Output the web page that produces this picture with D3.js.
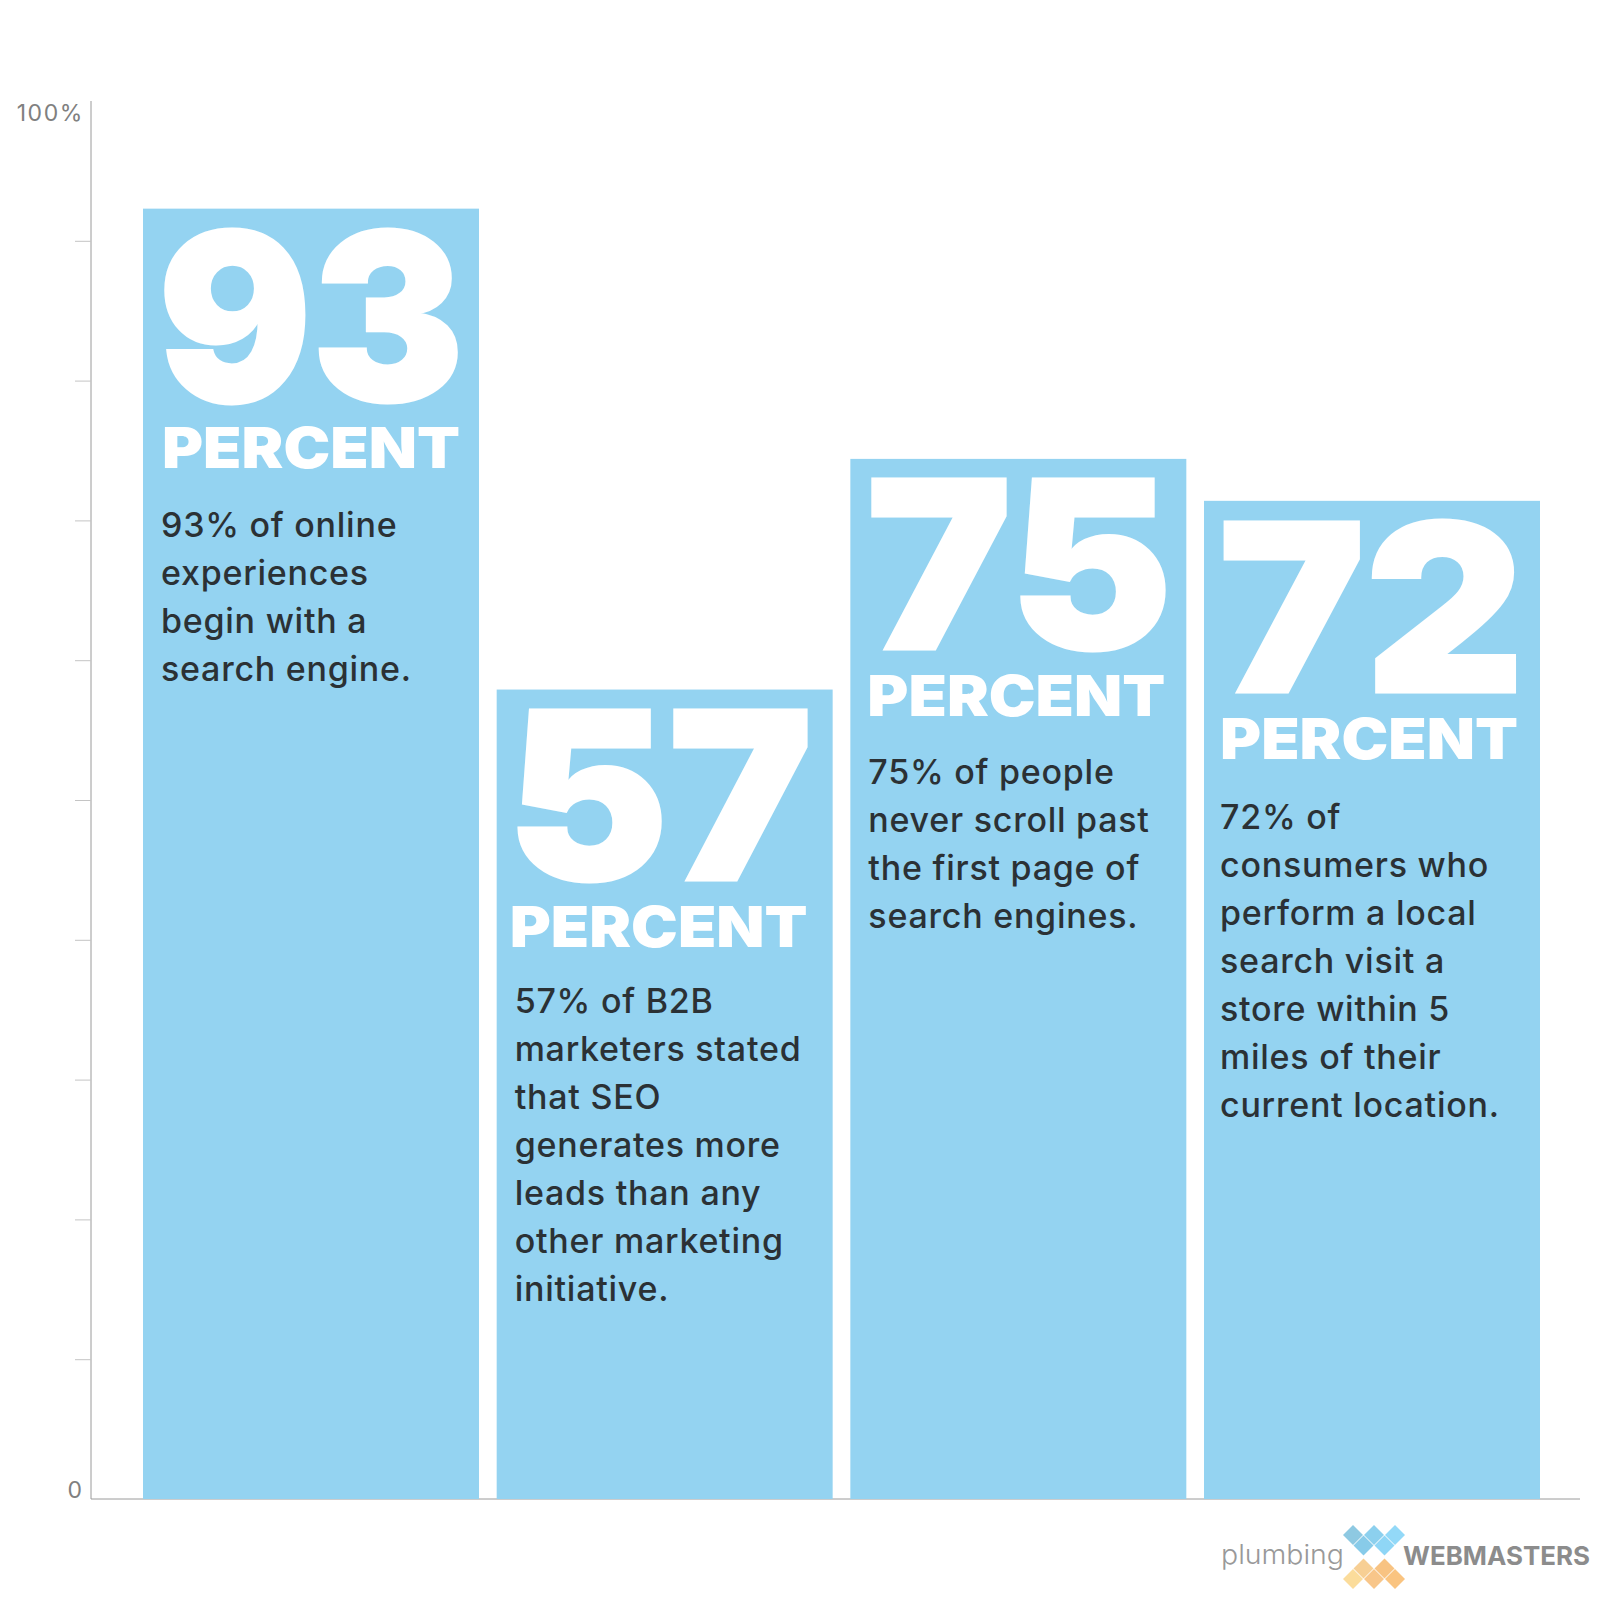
<!DOCTYPE html>
<html>
<head>
<meta charset="utf-8">
<script src="https://cdnjs.cloudflare.com/ajax/libs/d3/7.8.5/d3.min.js"></script>
<style>
	html, body { margin: 0; padding: 0; background: #fff; }
	svg { display: block; }
	text { font-family: Inter, "Open Sans", sans-serif; }
</style>
</head>
<body>
<svg id="chart" width="1600" height="1600"></svg>
<script>
// values
const categories = ['93', '57', '75', '72'];
const barValues = [92.3, 57.9, 74.4, 71.4];
const unitLabel = 'PERCENT';
const descriptions = [
	['93% of online', 'experiences', 'begin with a', 'search engine.'],
	['57% of B2B', 'marketers stated', 'that SEO', 'generates more', 'leads than any', 'other marketing', 'initiative.'],
	['75% of people', 'never scroll past', 'the first page of', 'search engines.'],
	['72% of', 'consumers who', 'perform a local', 'search visit a', 'store within 5', 'miles of their', 'current location.']
];
const tickValues = [0, 10, 20, 30, 40, 50, 60, 70, 80, 90, 100];

const svg = d3.select('#chart');

const x = d3.scaleBand().domain(categories).range([143, 1540]).paddingInner(0.05);
const y = d3.scaleLinear().domain([0, 100]).range([1499, 101]);

// ticks stick out to the left, no labels on the axis itself
const yAxis = d3.axisLeft(y).tickValues(tickValues.slice(1, -1)).tickSize(16).tickFormat('');
const axisG = svg.append('g').attr('transform', 'translate(91,0)').call(yAxis);
axisG.select('.domain').attr('stroke', '#9a9a9a').attr('d', `M0,${y(100)}V${y(0)}`);
axisG.selectAll('.tick line').attr('stroke', '#c4c4c4');

svg.append('line')
	.attr('x1', 91).attr('x2', 1580)
	.attr('y1', y(0)).attr('y2', y(0))
	.attr('stroke', '#9a9a9a');

svg.append('text').attr('x', 84).attr('y', y(100) + 20).attr('text-anchor', 'end')
	.attr('font-size', 23).attr('letter-spacing', 1.6).attr('fill', '#808080').text('100%');
svg.append('text').attr('x', 82).attr('y', y(0) - 1).attr('text-anchor', 'end')
	.attr('font-size', 23).attr('fill', '#808080').text('0');

// hand offsets of the text blocks against each bar
const numberNudge = [0, -5, 1, -0.5];
const percentNudge = [0, -6, -2, -3];
const percentLift = [0, -2, -2, -1];
const bodyLift = [0, -5, -3, 0];
const bodyIndent = [18, 18, 18, 16];

const bars = svg.selectAll('g.bar')
	.data(categories)
	.join('g')
	.attr('class', 'bar')
	.attr('transform', d => `translate(${x(d)},0)`);

bars.append('rect')
	.attr('width', x.bandwidth())
	.attr('y', (d, i) => y(barValues[i]))
	.attr('height', (d, i) => y(0) - y(barValues[i]))
	.attr('fill', '#94d3f1');

bars.append('text')
	.attr('x', (d, i) => x.bandwidth() / 2 + numberNudge[i])
	.attr('y', (d, i) => y(barValues[i]) + 192 + percentLift[i])
	.attr('text-anchor', 'middle')
	.attr('font-size', 233)
	.attr('font-weight', 900)
	.attr('fill', '#fff')
	.attr('stroke', '#fff')
	.attr('stroke-width', 3)
	.attr('textLength', 306)
	.attr('lengthAdjust', 'spacingAndGlyphs')
	.text(d => d);

bars.append('text')
	.attr('x', (d, i) => x.bandwidth() / 2 + percentNudge[i])
	.attr('y', (d, i) => y(barValues[i]) + 259 + percentLift[i])
	.attr('text-anchor', 'middle')
	.attr('font-size', 57)
	.attr('font-weight', 900)
	.attr('fill', '#fff')
	.attr('textLength', 298)
	.attr('lengthAdjust', 'spacingAndGlyphs')
	.text(unitLabel);

bars.each(function (d, i) {
	d3.select(this).selectAll('text.line')
		.data(descriptions[i])
		.join('text')
		.attr('class', 'line')
		.attr('x', bodyIndent[i])
		.attr('y', (t, k) => y(barValues[i]) + 328 + bodyLift[i] + k * 48)
		.attr('font-size', 34)
		.attr('font-weight', 500)
		.attr('letter-spacing', 0.75)
		.attr('fill', '#2b3135')
		.text(t => t);
});

// logo
const logoBlue = [[1353, 1535, '#8ec9e2'], [1374, 1535, '#8cd0ee'], [1395, 1535, '#93d9f8'], [1363.5, 1545.5, '#88cbe9'], [1384.5, 1545.5, '#8fd6f6']];
const logoOrange = [[1363.5, 1568.5, '#f7cf94'], [1384.5, 1568.5, '#f8c382'], [1353, 1579, '#fbdc9b'], [1374, 1579, '#f8c68a'], [1395, 1579, '#fac480']];
svg.selectAll('path.logo')
	.data(logoBlue.concat(logoOrange))
	.join('path')
	.attr('class', 'logo')
	.attr('d', d => `M${d[0]},${d[1] - 10}l10,10l-10,10l-10,-10z`)
	.attr('fill', d => d[2]);

svg.append('text').attr('x', 1221).attr('y', 1564)
	.attr('font-size', 27).attr('font-weight', 300).attr('fill', '#999')
	.attr('textLength', 123).attr('lengthAdjust', 'spacingAndGlyphs').text('plumbing');
svg.append('text').attr('x', 1403).attr('y', 1565)
	.attr('font-size', 26).attr('font-weight', 700).attr('fill', '#8c8c8c')
	.attr('textLength', 187).attr('lengthAdjust', 'spacingAndGlyphs').text('WEBMASTERS');
</script>
</body>
</html>
